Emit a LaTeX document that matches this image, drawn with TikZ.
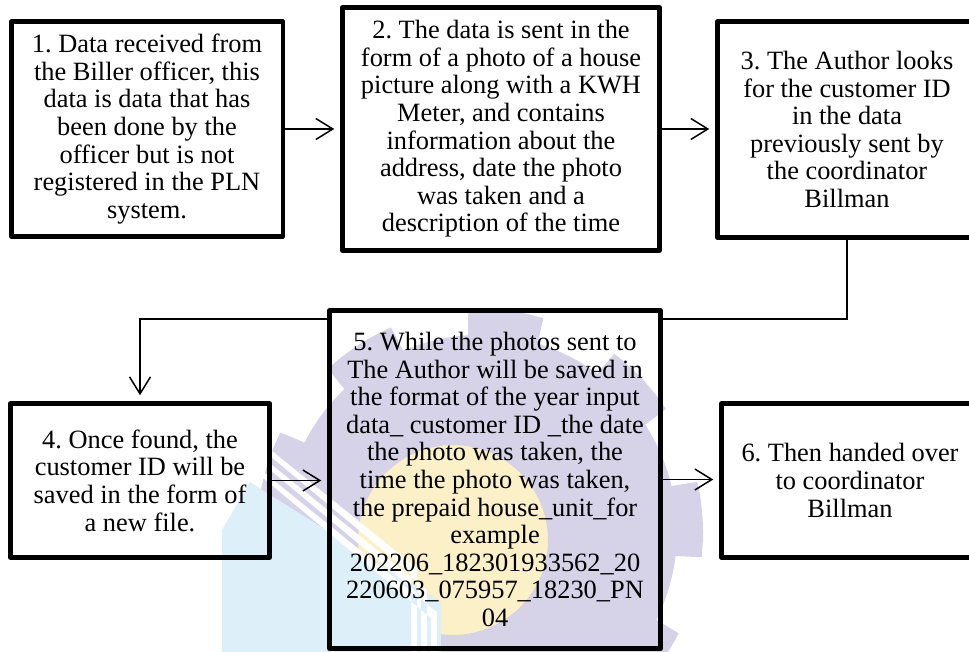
\documentclass[tikz,border=0pt]{standalone}
\usepackage{fontspec}
\setmainfont{Liberation Serif}
\frenchspacing
\usetikzlibrary{arrows.meta}
\pgfdeclarelayer{bg}
\pgfdeclarelayer{fg}
\pgfsetlayers{bg,main,fg}
\definecolor{wmlav}{RGB}{214,210,232}
\definecolor{wmyel}{RGB}{252,240,200}
\definecolor{wmblue}{RGB}{221,240,250}
\begin{document}
\begin{tikzpicture}[x=1pt,y=-1pt,
  box/.style={draw, line width=4.5pt, fill=white, align=center, inner sep=0pt,
    line join=round, font=\fontsize{26.4}{27.6}\selectfont},
  conn/.style={line width=1.5pt, -{Straight Barb[length=17pt,width=21pt]}, shorten >=6pt}]
\useasboundingbox (0,0) rectangle (969,652);
\clip (0,0) rectangle (969,652);

\node[box, minimum width=271.5pt, minimum height=215pt] (b1) at (147,129)
  {1. Data received from\\the Biller officer, this\\data is data that has\\been done by the\\officer but is not\\registered in the PLN\\system.};
\node[box, minimum width=317pt, minimum height=243pt] (b2) at (501,129)
  {2. The data is sent in the\\form of a photo of a house\\picture along with a KWH\\Meter, and contains\\information about the\\address, date the photo\\was taken and a\\description of the time};
\node[box, minimum width=259pt, minimum height=216pt] (b3) at (847,129.5)
  {3. The Author looks\\for the customer ID\\in the data\\previously sent by\\the coordinator\\Billman};
\node[box, minimum width=259pt, minimum height=154pt] (b4) at (140,480.5)
  {4. Once found, the\\customer ID will be\\saved in the form of\\a new file.};
\node[box, minimum width=331pt, minimum height=338pt] (b5) at (495,479.5)
  {5. While the photos sent to\\The Author will be saved in\\the format of the year input\\data\_ customer ID \_the date\\the photo was taken, the\\time the photo was taken,\\the prepaid house\_unit\_for\\example\\202206\_182301933562\_20\\220603\_075957\_18230\_PN\\04};
\node[box, minimum width=257pt, minimum height=154pt] (b6) at (850,480.5)
  {6. Then handed over\\to coordinator\\Billman};

\coordinate (turn) at (0,319);
\begin{pgfonlayer}{bg}
\draw[conn] (b1.east) -- (b1.east -| b2.west);
\draw[conn] (b2.east) -- (b2.east -| b3.west);
\draw[conn] (b3.south) -- (b3.south |- turn) -| (b4.north);
\draw[conn] (b4.east) -- (b4.east -| b5.west);
\draw[conn] (b5.east) -- (b5.east -| b6.west);
\end{pgfonlayer}

% faint watermark logo
\begin{pgfonlayer}{fg}
\begin{scope}[blend mode=multiply, even odd rule]
\clip (-10,-10) rectangle (1000,700)
  (240,425) -- (417,568) -- (417,660) -- (411,660) -- (411,574) -- (240,431) -- cycle
  (240,439) -- (427,590) -- (427,660) -- (421,660) -- (421,596) -- (240,445) -- cycle
  (240,453) -- (437,612) -- (437,660) -- (431,660) -- (431,618) -- (240,459) -- cycle;
\fill[wmblue] (222,530) -- (250,482) -- (441,602) -- (441,652) -- (222,652) -- cycle;
\begin{scope}
\clip (-10,-10) rectangle (1000,700)
  (222,530) -- (250,482) -- (441,602) -- (441,652) -- (222,652) -- cycle;
\fill[wmyel] (453,540) circle[radius=95];
\begin{scope}
\clip (-10,-10) rectangle (1000,700) (453,540) circle[radius=95];
\fill[wmlav, nonzero rule] plot[domain=0:360, samples=721, variable=\t]
  ({480+(210+((cos(9*\t+30)>0)?13:-13))*cos(\t)}, {532+(210+((cos(9*\t+30)>0)?13:-13))*sin(\t)}) -- cycle;
\end{scope}
\end{scope}
\end{scope}
\end{pgfonlayer}
\end{tikzpicture}
\end{document}
